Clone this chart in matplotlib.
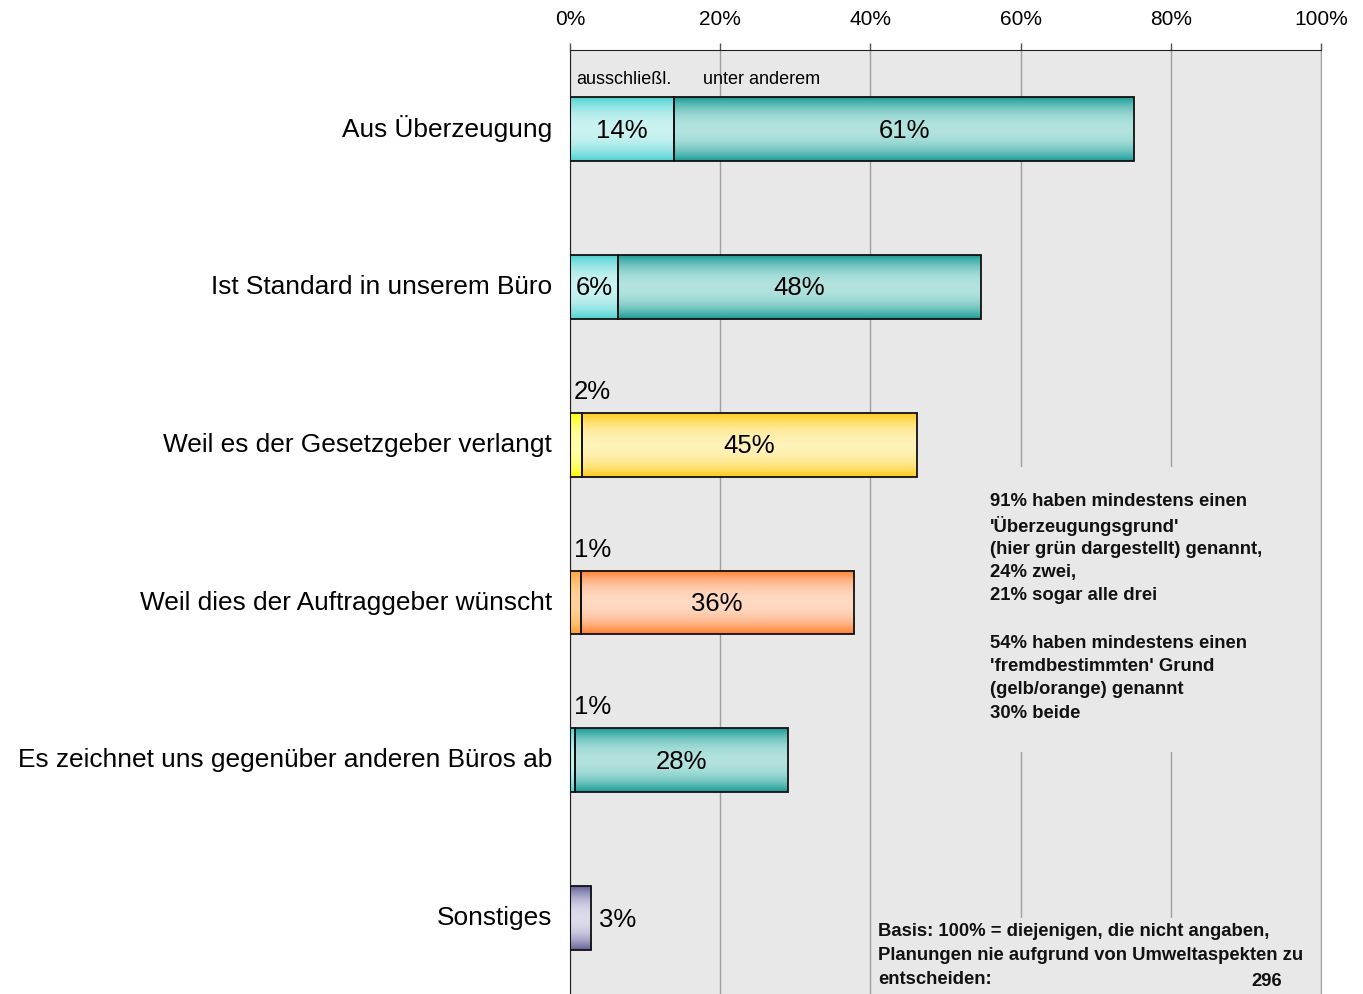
import numpy as np
import matplotlib
matplotlib.use("Agg")
import matplotlib.pyplot as plt
from matplotlib.colors import to_rgb
from matplotlib.patches import Rectangle

plt.rcParams['font.family'] = ['Liberation Sans', 'DejaVu Sans']

# data (percent)
categories = ["Aus Überzeugung", "Ist Standard in unserem Büro",
              "Weil es der Gesetzgeber verlangt", "Weil dies der Auftraggeber wünscht",
              "Es zeichnet uns gegenüber anderen Büros ab", "Sonstiges"]
exclusive = [13.9, 6.4, 1.6, 1.4, 0.7, 2.8]
among_others = [61.2, 48.3, 44.6, 36.4, 28.3, 0.0]
excl_labels = ["14%", "6%", "2%", "1%", "1%", "3%"]
other_labels = ["61%", "48%", "45%", "36%", "28%", ""]
tick_vals = [0, 20, 40, 60, 80, 100]

# (edge colour, centre colour) for the vertical gradients
excl_colors = [("#4ED2D2", "#CAF3F1"), ("#4ED2D2", "#CAF3F1"), ("#FFFF00", "#FFFFA8"),
               ("#FFA030", "#FFD29A"), ("#4ED2D2", "#CAF3F1"), ("#62629A", "#DCDCEC")]
other_colors = [("#1A9C96", "#B2E3DF"), ("#1A9C96", "#B2E3DF"), ("#FFCB1C", "#FFF2B8"),
                ("#FF7E2E", "#FFD9C2"), ("#1A9C96", "#B2E3DF"), None]

note_lines = ["91% haben mindestens einen", "'Überzeugungsgrund'",
              "(hier grün dargestellt) genannt,", "24% zwei,", "21% sogar alle drei", "",
              "54% haben mindestens einen", "'fremdbestimmten' Grund",
              "(gelb/orange) genannt", "30% beide"]
basis_lines = ["Basis: 100% = diejenigen, die nicht angaben,",
               "Planungen nie aufgrund von Umweltaspekten zu",
               "entscheiden:"]
basis_n = "296"

BG = "#E8E8E8"
H = 0.405
W, HT = 1363, 994


def gradient(ax, x0, w, yc, cols):
    edge, mid = np.array(to_rgb(cols[0])), np.array(to_rgb(cols[1]))
    t = np.abs(np.linspace(-1, 1, 64)) ** 2.2
    img = mid[None, :] + (edge - mid)[None, :] * t[:, None]
    img = np.repeat(img[:, None, :], 2, axis=1)
    ax.imshow(img, extent=[x0, x0 + w, yc + H / 2, yc - H / 2], aspect='auto',
              interpolation='bilinear', zorder=2)


def px_box(ax, x0, y0, x1, y1):
    # background patch (pixel coords, top-left origin) that hides gridlines behind text
    r = Rectangle((x0 / W, 1 - y1 / HT), (x1 - x0) / W, (y1 - y0) / HT,
                  transform=ax.figure.transFigure, facecolor=BG, edgecolor='none', zorder=1)
    ax.add_patch(r)


fig = plt.figure(figsize=(13.63, 9.94), dpi=100)
ax = fig.add_axes([570 / W, 0.0, 751 / W, 1 - 50 / HT])
ax.set_facecolor(BG)

y = np.arange(len(categories))
for i in y:
    gradient(ax, 0, exclusive[i], i, excl_colors[i])
    if among_others[i] > 0:
        gradient(ax, exclusive[i], among_others[i], i, other_colors[i])
ax.barh(y, exclusive, height=H, facecolor='none', edgecolor='#111111', linewidth=1.3, zorder=3)
ax.barh(y[:-1], among_others[:-1], left=exclusive[:-1], height=H, facecolor='none',
        edgecolor='#111111', linewidth=1.3, zorder=3)

# value labels
for i in y:
    if among_others[i] == 0:
        ax.text(exclusive[i] + 1.1, i + 0.01, excl_labels[i], ha='left', va='center', fontsize=18.5, zorder=4)
    elif exclusive[i] >= 5:
        ax.text(exclusive[i] / 2, i + 0.01, excl_labels[i], ha='center', va='center', fontsize=18.5, zorder=4)
    else:
        ax.text(0.5, i - 0.335, excl_labels[i], ha='left', va='center', fontsize=18.5, zorder=4)
    if among_others[i] > 0:
        ax.text(exclusive[i] + among_others[i] / 2, i + 0.01, other_labels[i], ha='center', va='center',
                fontsize=18.5, zorder=4)

ax.text(0.8, -0.31, "ausschließl.", ha='left', va='center', fontsize=13, zorder=4)
ax.text(17.7, -0.31, "unter anderem", ha='left', va='center', fontsize=13, zorder=4)

ax.set_xlim(0, 100)
ax.set_ylim(5.48, -0.5)
ax.xaxis.tick_top()
ax.set_xticks(tick_vals)
ax.set_xticklabels([f"{v}%" for v in tick_vals], fontsize=15)
ax.tick_params(axis='x', length=5, width=1, color='#555555', pad=10)
ax.set_yticks(y)
ax.set_yticklabels(categories, fontsize=18.9, va='center')
ax.tick_params(axis='y', length=0, pad=13)
ax.grid(axis='x', color='#A0A0A0', linewidth=1)
ax.set_axisbelow(True)
ax.spines['bottom'].set_visible(False)
ax.spines['right'].set_color('#A0A0A0')
ax.spines['left'].set_color('#222222')
ax.spines['top'].set_color('#222222')

# side note, one line at a time so the spacing stays even
px_box(ax, 982, 467, 1300, 752)
for k, line in enumerate(note_lines):
    if line:
        fig.text(990 / W, 1 - (502 + 23.5 * k) / HT, line, ha='left', va='center',
                 fontsize=13.3, fontweight='bold', color='#111111')

px_box(ax, 874, 918, 1312, 994)
for k, line in enumerate(basis_lines):
    fig.text(878 / W, 1 - (931 + 24 * k) / HT, line, ha='left', va='center', fontsize=13.3,
             fontweight='bold', color='#111111')
fig.text(1282 / W, 1 - 982 / HT, basis_n, ha='right', va='center', fontsize=13.3,
         fontweight='bold', color='#111111')

fig.savefig("out.png", dpi=100, facecolor='white')
